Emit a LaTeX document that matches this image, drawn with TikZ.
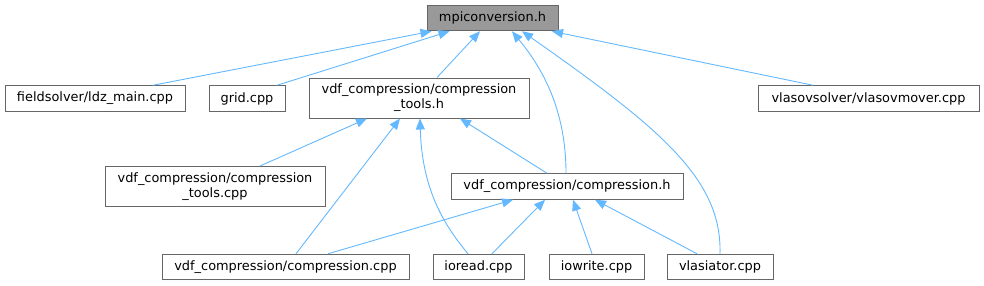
\documentclass[tikz,border=0pt]{standalone}
\usepackage{fontspec}
\setmainfont{DejaVu Sans}
\usetikzlibrary{arrows.meta, positioning}
\definecolor{EB}{RGB}{99,184,255}
\definecolor{BD}{RGB}{102,102,102}
\definecolor{HG}{RGB}{153,153,153}

\begin{document}
\begin{tikzpicture}[x=1pt, y=-1pt,
  fbox/.style={draw=BD, fill=#1, line width=1pt, inner sep=0pt,
               minimum height=25.5pt, align=center,
               font=\fontsize{12.9}{15}\selectfont},
  fbox/.default=white,
  tbox/.style={fbox, minimum height=40pt},
  dep/.style={{Triangle[length=11pt,width=9pt]}-, draw=EB, line width=0.9pt}
]
\useasboundingbox (0,0) rectangle (984,285);

% header and its includers
\node[fbox=HG, minimum width=131pt] (mpi) at (492.5,18) {mpiconversion.h};
\node[fbox, minimum width=180pt] (ldz) at (95,98.5) {fieldsolver/ldz\_main.cpp};
\node[fbox, minimum width=76pt] (grid) at (247,98.5) {grid.cpp};
\node[tbox, minimum width=220pt] (ctoolsh) at (419,98) {vdf\_compression/compression\\\_tools.h};
\node[fbox, minimum width=221pt] (mover) at (868.5,98.5) {vlasovsolver/vlasovmover.cpp};

% second level
\node[tbox, minimum width=220pt] (ctoolscpp) at (215,186.5) {vdf\_compression/compression\\\_tools.cpp};
\node[fbox, minimum width=232pt] (comph) at (567,186.5) {vdf\_compression/compression.h};

% sources
\node[fbox, minimum width=247pt] (compcpp) at (285.5,267) {vdf\_compression/compression.cpp};
\node[fbox, minimum width=91pt] (ioread) at (478.5,267) {ioread.cpp};
\node[fbox, minimum width=95pt] (iowrite) at (596.5,267) {iowrite.cpp};
\node[fbox, minimum width=106pt] (vlasiator) at (720,267) {vlasiator.cpp};

% edges to mpiconversion.h
\draw[dep] ([xshift=-61pt]mpi.south) -- ([xshift=58pt]ldz.north);
\draw[dep] ([xshift=-43pt]mpi.south) -- ([xshift=30pt]grid.north);
\draw[dep] ([xshift=-12.5pt]mpi.south) -- ([xshift=18pt]ctoolsh.north);
\draw[dep] ([xshift=19.5pt]mpi.south) .. controls +(33,40) and +(0,-60) .. ([xshift=-1pt]comph.north);
\draw[dep] ([xshift=29.5pt]mpi.south) .. controls +(140,98) and +(2,-74) .. (vlasiator.north);
\draw[dep] ([xshift=59.5pt]mpi.south) -- ([xshift=-55.5pt]mover.north);

% edges to compression_tools.h
\draw[dep] ([xshift=-52pt]ctoolsh.south) -- ([xshift=45pt]ctoolscpp.north);
\draw[dep] ([xshift=-19pt]ctoolsh.south) -- ([xshift=10.5pt]compcpp.north);
\draw[dep] ([xshift=1pt]ctoolsh.south) .. controls +(2,70) and +(-25,-30) .. ([xshift=-10.5pt]ioread.north);
\draw[dep] ([xshift=41pt]ctoolsh.south) -- ([xshift=-20pt]comph.north);

% edges to compression.h
\draw[dep] ([xshift=-54pt]comph.south) -- ([xshift=42.5pt]compcpp.north);
\draw[dep] ([xshift=-22pt]comph.south) -- ([xshift=13.5pt]ioread.north);
\draw[dep] ([xshift=6pt]comph.south) -- ([xshift=-4.5pt]iowrite.north);
\draw[dep] ([xshift=28pt]comph.south) -- ([xshift=-23pt]vlasiator.north);
\end{tikzpicture}
\end{document}
